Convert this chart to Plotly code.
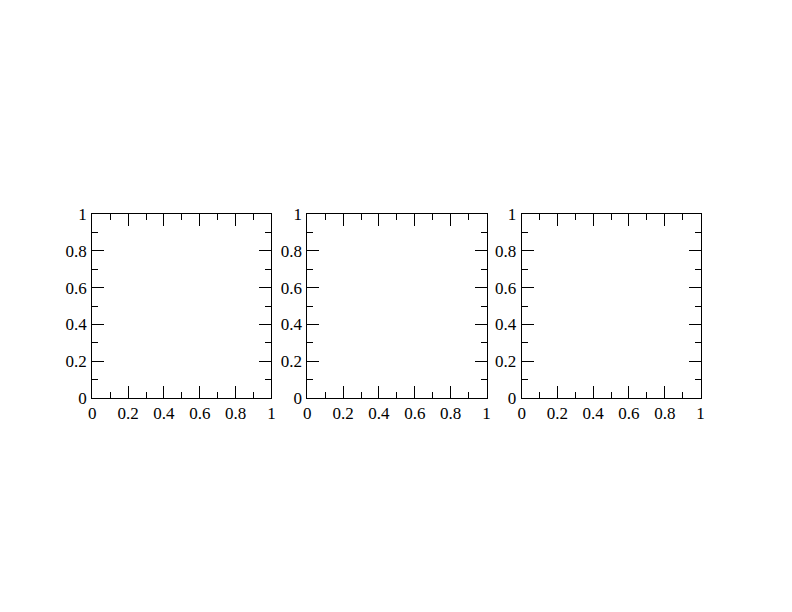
import plotly.graph_objects as go

# Data: three empty panels, each spanning 0..1 on both axes
panels = ["a", "b", "c"]
x_range = [0, 1]
y_range = [0, 1]
major_ticks = [0, 0.2, 0.4, 0.6, 0.8, 1]
major_labels = ["0", "0.2", "0.4", "0.6", "0.8", "1"]
minor_ticks = [0.1, 0.3, 0.5, 0.7, 0.9]

x_domains = [[0.1165, 0.3428], [0.3880, 0.6143], [0.6587, 0.8845]]
y_domain = [0.35, 0.65]

fig = go.Figure()
font = dict(family="Liberation Serif", size=17, color="black")

for i, name in enumerate(panels):
    sfx = "" if i == 0 else str(i + 1)
    fig.add_trace(go.Scatter(x=[], y=[], xaxis="x" + sfx, yaxis="y" + sfx,
                             mode="lines", showlegend=False, name=name))
    common = dict(
        showgrid=False, zeroline=False, showline=True, linecolor="black", linewidth=1,
        mirror="ticks", ticks="inside", ticklen=12, tickwidth=1, tickcolor="black",
        tickmode="array", tickvals=major_ticks, ticktext=major_labels,
        tickfont=font, fixedrange=True, automargin=False,
        minor=dict(tickmode="array", tickvals=minor_ticks, ticks="inside",
                   ticklen=6, tickwidth=1, tickcolor="black", showgrid=False),
    )
    fig.layout["xaxis" + sfx] = dict(common, domain=x_domains[i], range=x_range,
                                     anchor="y" + sfx, ticklabelstandoff=0)
    fig.layout["yaxis" + sfx] = dict(common, domain=y_domain, range=y_range,
                                     anchor="x" + sfx, ticklabelstandoff=1)

fig.update_layout(
    width=792, height=612, autosize=False,
    margin=dict(l=0, r=0, t=0, b=0, pad=0),
    paper_bgcolor="white", plot_bgcolor="white",
    font=font,
)

fig.write_html("out.html", config={"displayModeBar": False})
